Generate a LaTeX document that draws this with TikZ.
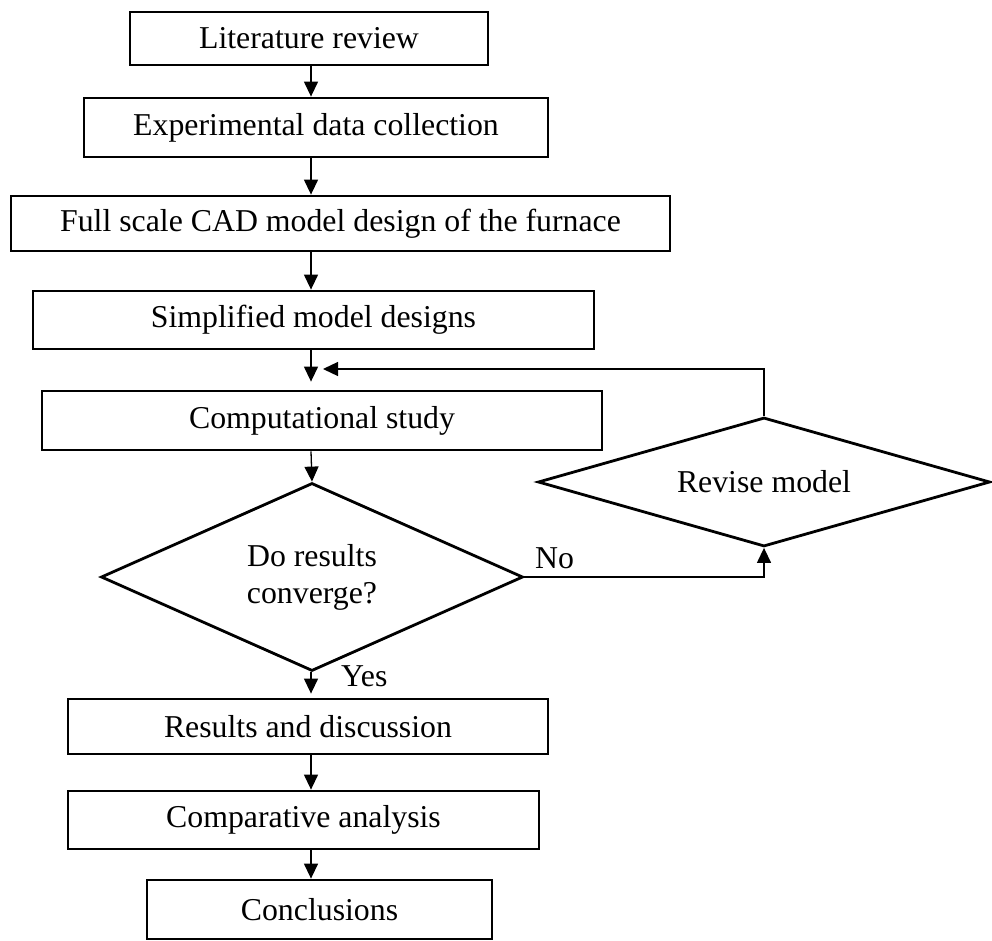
\documentclass[tikz,border=0pt]{standalone}
\usepackage{fontspec}
\setmainfont{Liberation Serif}
\usetikzlibrary{shapes.geometric,arrows.meta}

\tikzset{blk/.style={draw, rectangle, line width=2.8pt, inner sep=0pt}}
\tikzset{dmd/.style={draw, diamond, line width=2.8pt, inner sep=0pt, align=center}}
\tikzset{arr/.style={-{Triangle[length=15pt,width=14pt]}, line width=1.3pt}}

\begin{document}
\begin{tikzpicture}[x=1pt, y=-1pt, font=\fontsize{31.8}{37}\selectfont]
\useasboundingbox (0,0) rectangle (992,941);
\tikzstyle{lbl}=[inner sep=0pt, anchor=base west]
% main column
\node[blk, minimum width=358pt, minimum height=53pt] (lit) at (309,38.5) {Literature review};
\node[blk, minimum width=464pt, minimum height=59pt] (exp) at (316,127.5) {Experimental data collection};
\node[blk, minimum width=659pt, minimum height=55pt] (cad) at (340.5,223.5) {Full scale CAD model design of the furnace};
\node[blk, minimum width=561pt, minimum height=58pt] (simp) at (313.5,320) {Simplified model designs};
\node[blk, minimum width=560pt, minimum height=59pt] (comp) at (322,420.5) {Computational study};
\node[dmd, aspect=2.245, minimum width=422pt, minimum height=188pt] (dec) at (312,577) {Do results\\converge?};
\node[dmd, aspect=3.5, minimum width=452pt, minimum height=129pt] (rev) at (764,482) {Revise model};
\node[blk, minimum width=480pt, minimum height=55pt] (res) at (308,726.5) {Results and discussion};
\node[blk, minimum width=471pt, minimum height=58pt] (cmpa) at (303.5,820) {Comparative analysis};
\node[blk, minimum width=345pt, minimum height=59pt] (conc) at (319.5,909.5) {Conclusions};
\coordinate (ax) at (311,0);
\coordinate (fb) at (323,369);
% labels
\node[lbl] (no) at (535,568) {No};
\node[lbl] (yes) at (341,686) {Yes};
% connectors
\draw[arr] (ax |- lit.south) -- (ax |- exp.north);
\draw[arr] (ax |- exp.south) -- (ax |- cad.north);
\draw[arr] (ax |- cad.south) -- (ax |- simp.north);
\draw[arr, shorten >=8pt] (ax |- simp.south) -- (ax |- comp.north);
\draw[arr] (ax |- comp.south) -- (dec.north);
\draw[arr, shorten >=4pt] (ax |- dec.south) -- (ax |- res.north);
\draw[arr] (ax |- res.south) -- (ax |- cmpa.north);
\draw[arr] (ax |- cmpa.south) -- (ax |- conc.north);
\draw[arr] (dec.east) -| (rev.south);
\draw[arr] (rev.north) |- (fb);
\end{tikzpicture}
\end{document}
